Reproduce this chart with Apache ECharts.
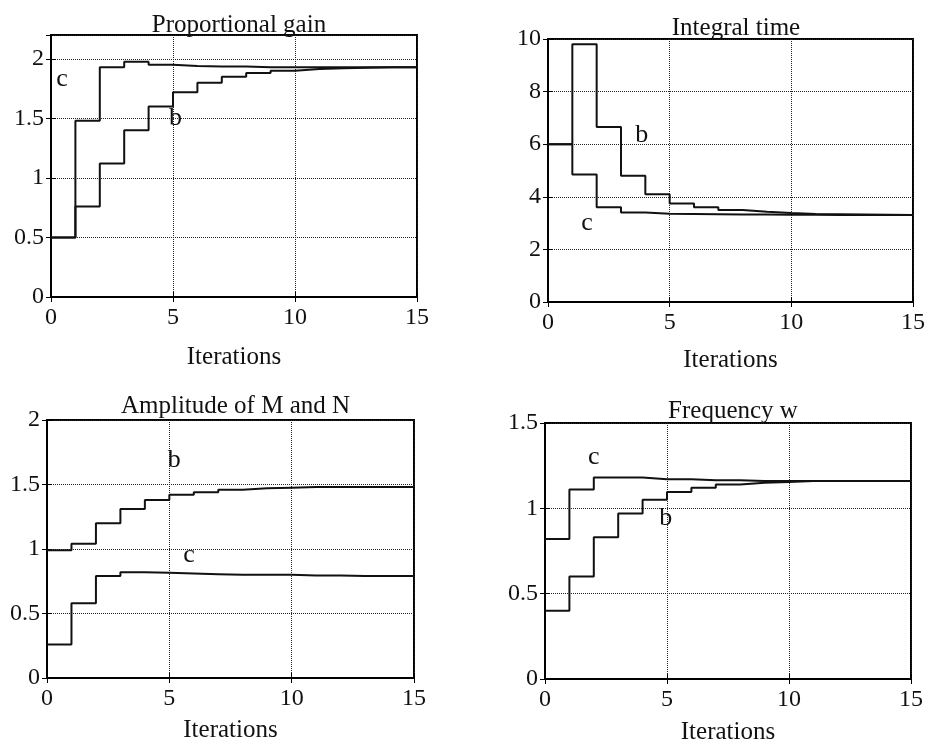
<!DOCTYPE html>
<html>
<head>
<meta charset="utf-8">
<script src="https://cdn.jsdelivr.net/npm/echarts@6/dist/echarts.min.js"></script>
<style>
html, body { margin: 0; padding: 0; background: #fff; }
#main { width: 928px; height: 746px; }
</style>
</head>
<body>
<div id="main"></div>
<script>
// iteration numbers (x axis of every panel)
var iters = [0, 1, 2, 3, 4, 5, 6, 7, 8, 9, 10, 11, 12, 13, 14, 15];

// Proportional gain
var gainB = [0.5, 0.76, 1.12, 1.40, 1.60, 1.72, 1.80, 1.85, 1.88, 1.90, 1.915, 1.92, 1.925, 1.93, 1.93, 1.93];
var gainC = [0.5, 1.48, 1.93, 1.975, 1.95, 1.94, 1.935, 1.935, 1.93, 1.93, 1.93, 1.93, 1.93, 1.93, 1.93, 1.93];

// Integral time
var intB = [6.0, 9.8, 6.65, 4.8, 4.1, 3.75, 3.6, 3.5, 3.43, 3.38, 3.35, 3.34, 3.33, 3.32, 3.31, 3.31];
var intC = [6.0, 4.85, 3.6, 3.4, 3.36, 3.35, 3.34, 3.33, 3.33, 3.32, 3.32, 3.31, 3.31, 3.31, 3.31, 3.31];

// Amplitude of M and N
var ampB = [0.99, 1.04, 1.2, 1.31, 1.38, 1.42, 1.44, 1.46, 1.47, 1.475, 1.48, 1.48, 1.48, 1.48, 1.48, 1.48];
var ampC = [0.26, 0.58, 0.79, 0.82, 0.815, 0.81, 0.805, 0.8, 0.8, 0.8, 0.795, 0.795, 0.79, 0.79, 0.79, 0.79];

// Frequency w
var freqB = [0.40, 0.60, 0.83, 0.97, 1.05, 1.095, 1.12, 1.14, 1.15, 1.155, 1.16, 1.16, 1.16, 1.16, 1.16, 1.16];
var freqC = [0.82, 1.11, 1.18, 1.18, 1.17, 1.17, 1.165, 1.165, 1.16, 1.16, 1.16, 1.16, 1.16, 1.16, 1.16, 1.16];

var titles = ['Proportional gain', 'Integral time', 'Amplitude of M and N', 'Frequency w'];
var yMax = [2.2, 10, 2, 1.5];
var yStep = [0.5, 2, 0.5, 0.5];
var seriesB = [gainB, intB, ampB, freqB];
var seriesC = [gainC, intC, ampC, freqC];
// where the "b" / "c" letters sit, in data units
var labelB = [[5.1, 1.5], [3.85, 6.35], [5.2, 1.69], [4.95, 0.94]];
var labelC = [[0.45, 1.83], [1.6, 3.0], [5.8, 0.955], [2.0, 1.30]];

// plot boxes in px
var boxes = [
    {left: 51, top: 35, width: 366, height: 262, nameGap: 48, titleTop: 8},
    {left: 548, top: 39, width: 366, height: 263, nameGap: 46, titleTop: 11},
    {left: 47, top: 420, width: 367, height: 258, nameGap: 40, titleTop: 389},
    {left: 545, top: 423, width: 366, height: 259, nameGap: 41, titleTop: 394}
];

var fontFam = '"Liberation Serif", "DejaVu Serif", serif';
var ink = '#111';

var myChart = echarts.init(document.getElementById('main'));

function pairs(ys) {
    var res = [];
    for (var i = 0; i < iters.length; i++) {
        res.push([iters[i], ys[i]]);
    }
    return res;
}

var grid = [], xAxis = [], yAxis = [], title = [], series = [];

for (var k = 0; k < 4; k++) {
    var bx = boxes[k];
    grid.push({
        left: bx.left, top: bx.top, width: bx.width, height: bx.height,
        show: true, borderColor: '#000', borderWidth: 2, backgroundColor: '#fff'
    });
    title.push({
        text: titles[k],
        left: bx.left + bx.width / 2,
        top: bx.titleTop,
        textAlign: 'center',
        textStyle: {fontFamily: fontFam, fontSize: 25, fontWeight: 'normal', color: ink}
    });
    xAxis.push({
        type: 'value', gridIndex: k, min: 0, max: 15, interval: 5,
        name: 'Iterations', nameLocation: 'middle', nameGap: bx.nameGap,
        nameTextStyle: {fontFamily: fontFam, fontSize: 25, color: ink},
        axisLine: {show: true, lineStyle: {color: '#000', width: 2}},
        axisTick: {show: true, inside: true, length: 5, lineStyle: {color: '#000'}},
        axisLabel: {fontFamily: fontFam, fontSize: 24, color: ink, margin: 9},
        splitLine: {show: true, lineStyle: {type: 'dotted', color: '#222', width: 1}}
    });
    // top axis, ticks only
    xAxis.push({
        type: 'value', gridIndex: k, position: 'top', min: 0, max: 15, interval: 5,
        axisLine: {show: false},
        axisTick: {show: true, inside: true, length: 5, lineStyle: {color: '#000'}},
        axisLabel: {show: false}, splitLine: {show: false}
    });
    yAxis.push({
        type: 'value', gridIndex: k, min: 0, max: yMax[k], interval: yStep[k],
        axisLine: {show: true, lineStyle: {color: '#000', width: 2}},
        axisTick: {show: true, inside: true, length: 5, lineStyle: {color: '#000'}},
        axisLabel: {fontFamily: fontFam, fontSize: 24, color: ink, margin: 7, showMaxLabel: k !== 0},
        splitLine: {show: true, lineStyle: {type: 'dotted', color: '#222', width: 1}}
    });
    // right axis, ticks only
    yAxis.push({
        type: 'value', gridIndex: k, position: 'right', min: 0, max: yMax[k], interval: yStep[k],
        axisLine: {show: false},
        axisTick: {show: true, inside: true, length: 5, lineStyle: {color: '#000'}},
        axisLabel: {show: false}, splitLine: {show: false}
    });

    var letterStyle = {
        show: true, position: 'inside',
        fontFamily: fontFam, fontSize: 26, color: ink
    };
    series.push({
        name: 'b' + k, type: 'line', step: 'end',
        xAxisIndex: 2 * k, yAxisIndex: 2 * k,
        data: pairs(seriesB[k]),
        showSymbol: false, silent: true, animation: false,
        lineStyle: {color: '#111', width: 2},
        markPoint: {
            symbol: 'circle', symbolSize: 1, itemStyle: {color: 'rgba(0,0,0,0)'},
            label: Object.assign({formatter: 'b'}, letterStyle),
            data: [{coord: labelB[k]}]
        }
    });
    series.push({
        name: 'c' + k, type: 'line', step: 'end',
        xAxisIndex: 2 * k, yAxisIndex: 2 * k,
        data: pairs(seriesC[k]),
        showSymbol: false, silent: true, animation: false,
        lineStyle: {color: '#111', width: 2},
        markPoint: {
            symbol: 'circle', symbolSize: 1, itemStyle: {color: 'rgba(0,0,0,0)'},
            label: Object.assign({formatter: 'c'}, letterStyle),
            data: [{coord: labelC[k]}]
        }
    });
}

var option = {
    backgroundColor: '#fff',
    animation: false,
    title: title,
    grid: grid,
    xAxis: xAxis,
    yAxis: yAxis,
    series: series
};

myChart.setOption(option);
</script>
</body>
</html>
